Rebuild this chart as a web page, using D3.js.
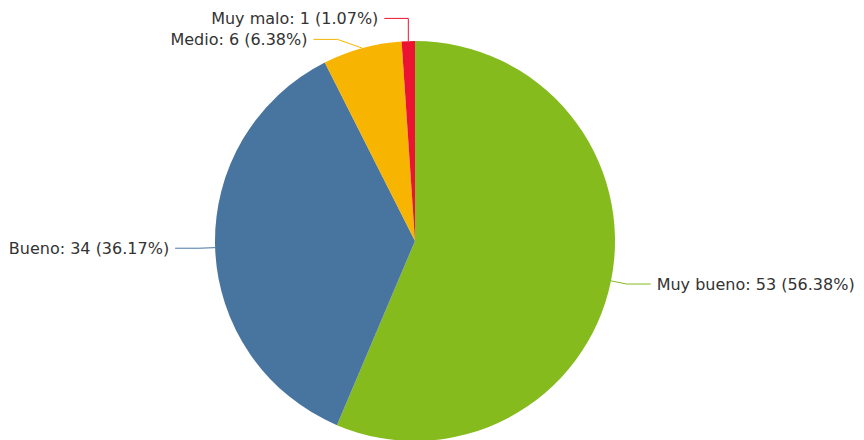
<!DOCTYPE html>
<html>
<head>
<meta charset="utf-8">
<script src="https://cdn.jsdelivr.net/npm/d3@7"></script>
<style>
  body { margin: 0; background: #fff; }
  text { font-family: "DejaVu Sans", sans-serif; font-size: 16px; fill: #333; }
</style>
</head>
<body>
<svg width="864" height="440"></svg>
<script>
const categories = ["Muy bueno", "Bueno", "Medio", "Muy malo"];
const counts = [53, 34, 6, 1];
const percents = ["56.38%", "36.17%", "6.38%", "1.07%"];
const sliceColors = ["#85bb1d", "#4874a0", "#f7b400", "#ec1231"];

// layout
const cx = 415, cy = 241, radius = 200;
const elbowR = 216;   // where the label line bends
const tail = 24;      // horizontal part of the label line
const lineGap = 21;   // min vertical gap between labels on one side

const rows = categories.map((c, i) => ({
  name: c, value: counts[i], pct: percents[i], color: sliceColors[i]
}));

const pie = d3.pie().sort(null).value(d => d.value);
const arc = d3.arc().innerRadius(0).outerRadius(radius);
const edgeArc = d3.arc().innerRadius(radius).outerRadius(radius);

const svg = d3.select('svg');
const g = svg.append('g').attr('transform', `translate(${cx},${cy})`);

const arcs = pie(rows);

g.selectAll('path.slice')
  .data(arcs).enter().append('path')
  .attr('class', 'slice')
  .attr('d', arc)
  .attr('fill', d => d.data.color);

// label positions
const labels = arcs.map(d => {
  const mid = (d.startAngle + d.endAngle) / 2;
  const edge = edgeArc.centroid(d);
  return {
    d, mid, edge,
    side: Math.sin(mid) >= 0 ? 1 : -1,
    y: -Math.cos(mid) * elbowR
  };
});

// spread overlapping labels on each side
[1, -1].forEach(side => {
  const grp = labels.filter(l => l.side === side).sort((a, b) => a.y - b.y);
  for (let k = 1; k < grp.length; k++) {
    const a = grp[k - 1], b = grp[k];
    if (b.y - a.y < lineGap) {
      const c = (a.y + b.y) / 2;
      a.y = c - lineGap / 2;
      b.y = c + lineGap / 2;
    }
  }
});

labels.forEach(l => {
  const dy = Math.abs(l.y);
  let ex = dy < elbowR ? l.side * Math.sqrt(elbowR * elbowR - dy * dy) : l.edge[0];
  if (l.side < 0) ex = Math.min(ex, l.edge[0]); else ex = Math.max(ex, l.edge[0]);
  l.elbow = [ex, l.y];
  l.end = [ex + l.side * tail, l.y];
});

g.selectAll('polyline')
  .data(labels).enter().append('polyline')
  .attr('points', l => [l.edge, l.elbow, l.end].map(p => p.join(',')).join(' '))
  .attr('fill', 'none')
  .attr('stroke', l => l.d.data.color)
  .attr('stroke-width', 1);

g.selectAll('text.lbl')
  .data(labels).enter().append('text')
  .attr('class', 'lbl')
  .attr('x', l => l.end[0] + l.side * 6)
  .attr('y', l => l.end[1])
  .attr('dy', '0.35em')
  .attr('text-anchor', l => l.side > 0 ? 'start' : 'end')
  .text(l => `${l.d.data.name}: ${l.d.data.value} (${l.d.data.pct})`);
</script>
</body>
</html>
